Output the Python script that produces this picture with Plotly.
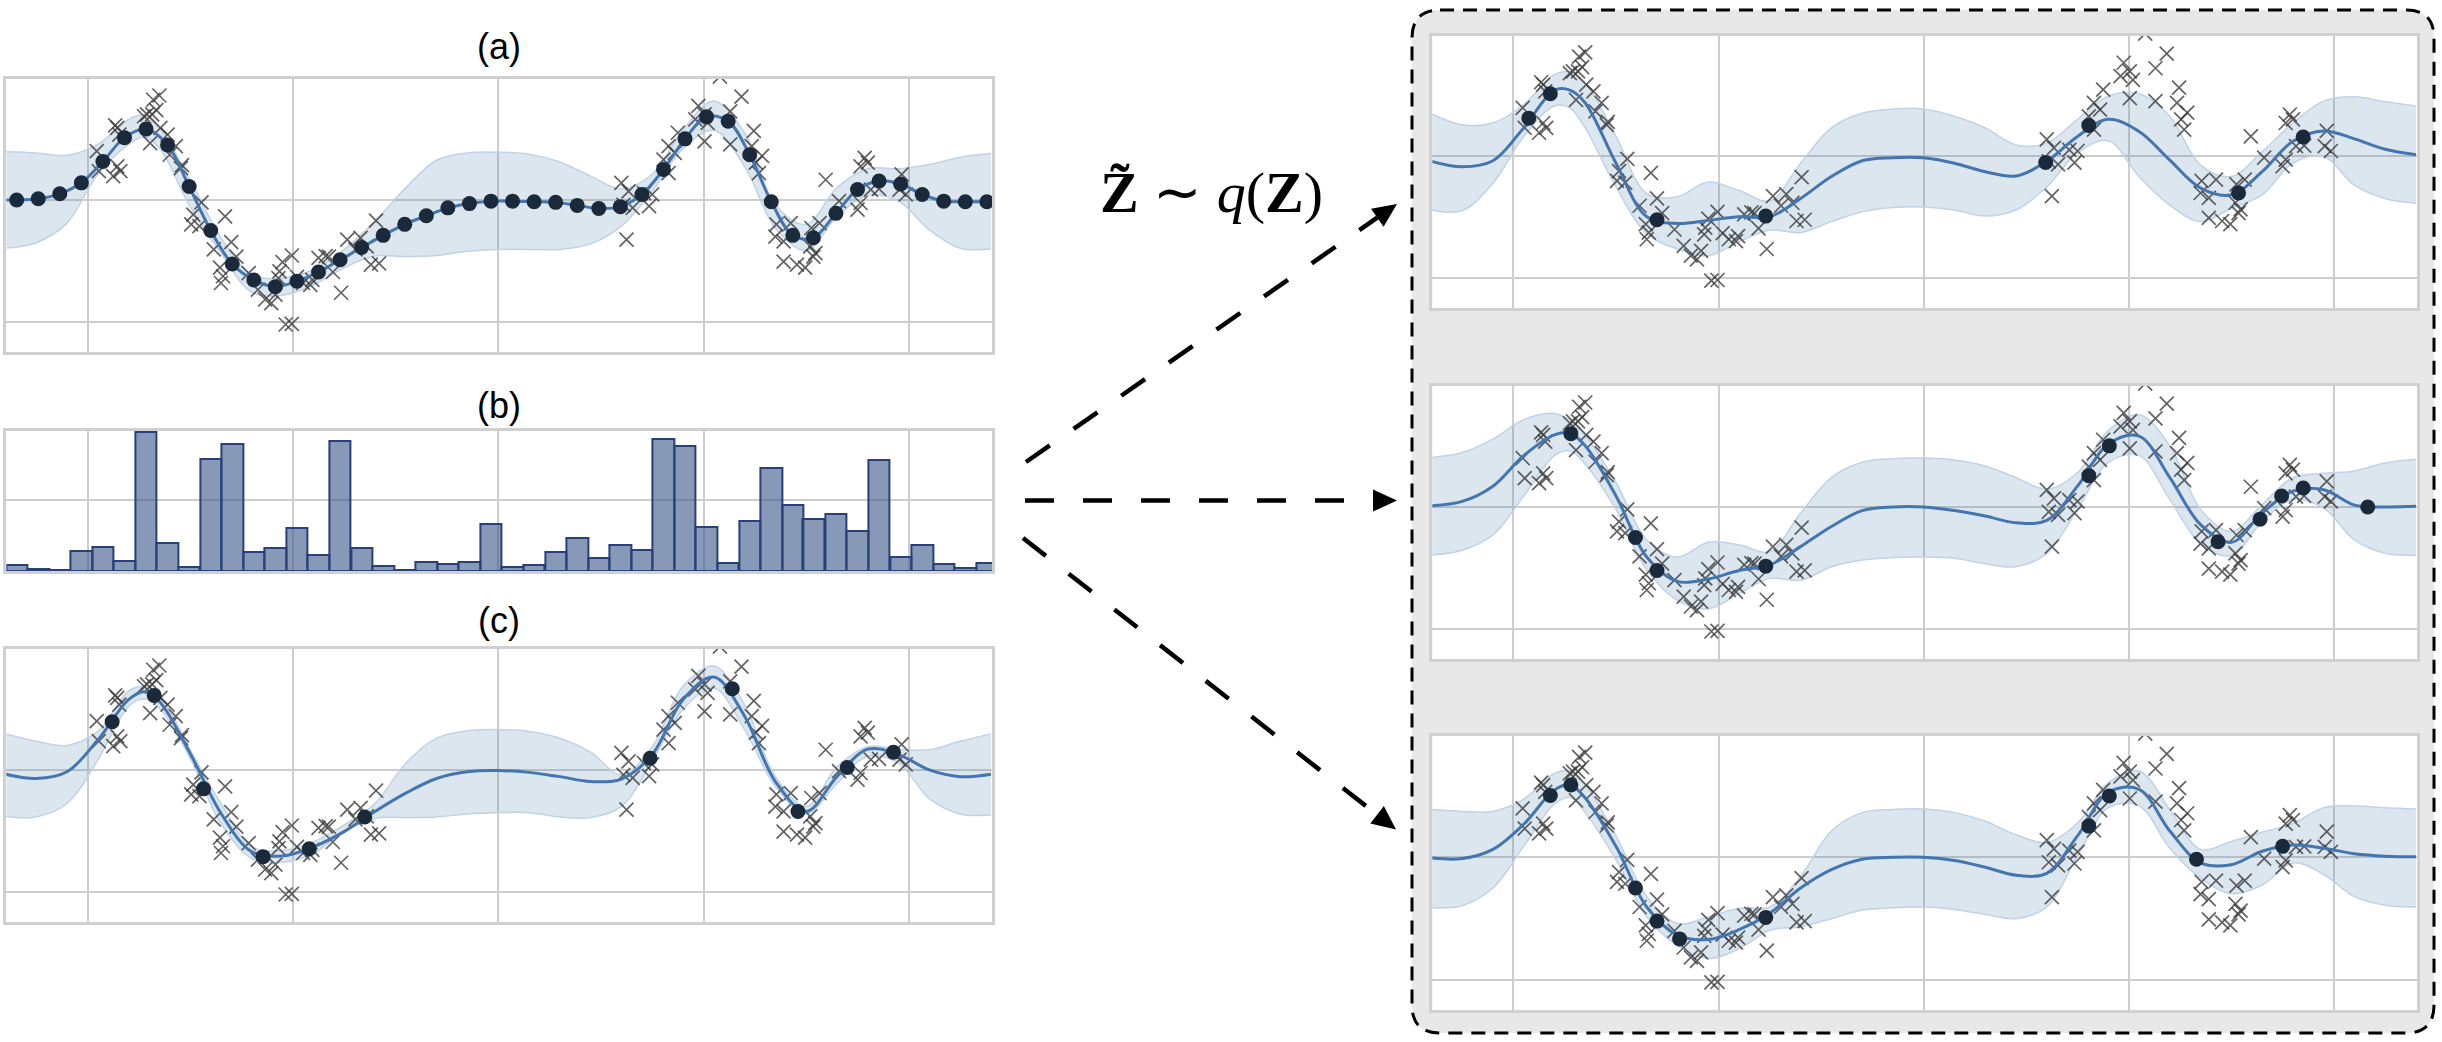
import math
import plotly.graph_objects as go

# ---------- shared data ----------
obs_x = [-3.91,-3.89,-3.73,-3.71,-3.69,-3.71,-3.75,-3.68,-3.42,-3.45,-3.36,-3.30,-3.33,-3.37,-3.39,-3.29,-3.22,-3.14,-3.20,-3.09,-3.08,
         -2.89,-2.97,-2.99,-2.66,-2.91,-2.60,-2.77,-2.55,-2.71,-2.68,-2.70,-2.43,-2.34,-2.27,-2.21,-2.17,-2.13,-2.10,-2.01,-2.14,-1.96,-2.07,-2.01,
         -1.90,-1.83,-1.81,-1.75,-1.68,-1.65,-1.61,-1.53,-1.47,-1.34,-1.28,-1.39,-1.19,-1.24,-1.16,
         1.20,1.27,1.22,1.31,1.47,1.50,1.42,1.25,1.61,1.66,1.66,1.75,1.72,1.95,2.01,2.04,1.92,2.01,2.16,2.26,2.26,2.37,2.49,2.47,2.57,2.51,2.54,
         2.71,2.70,2.85,2.78,2.78,2.91,2.99,3.05,3.13,3.09,3.07,3.04,3.19,3.32,3.50,3.53,3.57,3.60,3.53,3.63,3.71,3.93,3.91,3.97]
obs_y = [0.80,0.47,1.22,1.18,1.07,0.55,0.39,0.47,1.40,1.37,1.64,1.71,1.47,1.40,0.93,1.18,1.07,0.88,0.74,0.52,0.57,
         -0.04,-0.24,-0.40,-0.27,-0.43,-0.69,-0.81,-0.93,-1.11,-1.25,-1.36,-1.20,-1.47,-1.63,-1.69,-1.55,-1.17,-1.02,-0.91,-1.28,-1.26,-2.04,-2.03,
         -1.36,-1.39,-1.31,-0.95,-0.92,-0.93,-1.18,-1.52,-0.65,-0.62,-0.76,-0.81,-0.34,-1.06,-1.04,
         0.28,0.14,-0.08,-0.13,-0.10,0.09,0.11,-0.65,0.66,0.88,0.44,1.10,0.77,1.54,1.40,1.26,1.32,0.96,2.02,1.45,0.91,1.69,1.13,0.88,0.72,0.61,0.44,
         -0.40,-0.60,-0.38,-0.68,-1.01,-1.06,-1.11,-0.46,-0.38,-0.87,-0.93,-0.76,0.33,-0.02,-0.16,-0.05,0.69,0.61,0.55,0.17,0.18,0.42,0.17,0.09]

knots = [-4.8,-4.5,-4.2,-3.9,-3.6,-3.45,-3.3,-3.0,-2.7,-2.4,-2.1,-1.8,-1.5,-1.2,-0.9,-0.6,-0.3,0.0,0.3,0.6,0.9,1.2,1.5,1.8,2.1,2.4,2.7,3.0,3.3,3.6,3.9,4.2,4.5,4.8]

# ---------- panel (a) ----------
a_x = [-4.69,-4.48,-4.27,-4.06,-3.85,-3.64,-3.43,-3.22,-3.01,-2.80,-2.59,-2.38,-2.17,-1.96,-1.75,-1.54,-1.33,-1.12,-0.91,-0.70,-0.49,-0.28,-0.07,
       0.14,0.35,0.56,0.77,0.98,1.19,1.40,1.61,1.82,2.03,2.24,2.45,2.66,2.87,3.07,3.29,3.50,3.71,3.92,4.13,4.34,4.55,4.76]
a_y = [0.00,0.02,0.10,0.28,0.63,1.02,1.16,0.90,0.22,-0.50,-1.05,-1.31,-1.42,-1.33,-1.18,-0.98,-0.78,-0.58,-0.40,-0.26,-0.13,-0.06,-0.02,
       -0.02,-0.03,-0.04,-0.09,-0.14,-0.11,0.09,0.50,1.00,1.36,1.29,0.74,-0.03,-0.58,-0.62,-0.22,0.17,0.31,0.26,0.09,-0.02,-0.03,-0.03]
a_up = [.79,.77,.73,.91,1.32,1.39,1.18,.33,-.62,-1.22,-1.28,-1.14,-.81,-.35,.20,.65,.77,.78,.75,.62,.39,.18,.42,1.15,1.62,1.10,-.08,-.40,.20,.51,.51,.58,.70,.76]
a_lo = [-.79,-.70,-.38,.42,.91,1.03,.85,-.11,-.87,-1.51,-1.56,-1.39,-1.11,-.92,-.93,-.91,-.84,-.81,-.81,-.81,-.72,-.43,.14,.84,1.14,.55,-.46,-.83,-.27,.07,-.02,-.49,-.79,-.80]

# ---------- panel (b) ----------
b_bin_x = [-4.69,-4.48,-4.27,-4.06,-3.85,-3.64,-3.43,-3.22,-3.01,-2.80,-2.59,-2.38,-2.17,-1.96,-1.75,-1.54,-1.33,-1.12,-0.91,-0.70,-0.49,-0.28,-0.07,
           0.14,0.35,0.56,0.77,0.98,1.19,1.40,1.61,1.82,2.03,2.24,2.45,2.66,2.87,3.07,3.29,3.50,3.71,3.92,4.13,4.34,4.55,4.76]
b_vals = [.045,.017,.009,.142,.170,.071,.983,.198,.026,.795,.896,.137,.165,.302,.113,.922,.165,.038,.009,.066,.047,.066,.330,.026,.045,.132,.231,.090,.182,.149,.932,.887,.311,.054,.356,.729,.467,.368,.406,.285,.788,.097,.182,.050,.021,.057]

# ---------- panel (c) ----------
c_mean = [-.07,-.14,-.03,.49,1.15,1.28,1.12,.27,-.71,-1.34,-1.41,-1.26,-1.01,-.68,-.38,-.14,-.03,-.01,-.04,-.11,-.19,-.15,.25,1.15,1.52,.88,-.19,-.68,-.11,.34,.25,0,-.11,-.07]
c_up = [.59,.47,.40,.63,1.29,1.37,1.23,.33,-.55,-1.26,-1.32,-1.18,-.90,-.55,.11,.52,.64,.66,.63,.52,.29,-.08,.38,1.37,1.70,1.07,-.11,-.60,.05,.38,.34,.33,.47,.59]
c_lo = [-.76,-.77,-.55,.16,1.04,1.16,1.01,.19,-.88,-1.45,-1.51,-1.37,-1.01,-.79,-.78,-.77,-.72,-.70,-.70,-.77,-.78,-.60,.14,.99,1.34,.66,-.27,-.72,-.22,.22,.11,-.47,-.72,-.74]
c_x = [-3.76,-3.35,-2.87,-2.29,-1.84,-1.30,1.48,2.28,2.92,3.40,3.85]
c_y = [.79,1.22,-.31,-1.42,-1.29,-.77,.19,1.33,-.68,.04,.29]

# ---------- sampled panels ----------
r1_mean = [-.08,-.17,-.07,.47,1.09,1.09,.88,-.11,-.99,-1.10,-1.05,-.99,-.99,-.69,-.33,-.07,-.02,-.02,-.11,-.25,-.32,-.08,.33,.61,.41,-.06,-.52,-.63,-.25,.25,.42,.29,.12,.03]
r1_up = [.70,.52,.55,.85,1.35,1.39,1.21,.33,-.61,-.66,-.42,-.56,-.73,-.11,.47,.71,.78,.78,.66,.47,.19,.22,.61,.99,1.03,.66,-.14,-.33,.08,.55,.91,.98,.90,.83]
r1_lo = [-.88,-.89,-.44,.33,.83,.80,.47,-.50,-1.27,-1.52,-1.63,-1.40,-1.21,-1.25,-1.07,-.91,-.84,-.83,-.88,-.98,-.88,-.50,.06,.26,-.33,-.80,-1.07,-.85,-.63,-.11,0,-.47,-.69,-.77]
r1_x = [-3.85,-3.64,-2.60,-1.54,1.19,1.61,3.07,3.70]
r1_y = [.63,1.03,-1.04,-.98,-.10,.51,-.60,.32]

r2_mean = [.02,.09,.34,.84,1.18,1.21,1.00,.18,-.82,-1.22,-1.18,-1.04,-.95,-.65,-.32,-.06,0,0,-.06,-.15,-.26,-.22,.34,1.03,1.16,.48,-.29,-.58,-.10,.26,.28,.03,0,.01]
r2_up = [.81,.89,1.11,1.43,1.53,1.42,1.17,.40,-.54,-.82,-.58,-.62,-.73,-.10,.48,.73,.79,.80,.77,.67,.48,.29,.56,1.25,1.51,1.00,-.04,-.40,.04,.48,.55,.59,.72,.78]
r2_lo = [-.79,-.71,-.46,.18,.84,.92,.70,-.04,-1.03,-1.53,-1.67,-1.42,-1.17,-1.20,-.98,-.87,-.83,-.82,-.84,-.93,-.98,-.76,-.04,.73,.84,.12,-.60,-.80,-.24,.12,-.02,-.54,-.76,-.79]
r2_x = [-3.44,-2.81,-2.60,-1.54,1.61,1.81,2.87,3.28,3.49,3.70,4.33]
r2_y = [1.20,-.50,-1.04,-.97,.51,1.00,-.57,-.20,.18,.31,0]

r3_mean = [-.01,-.02,.13,.54,1.10,1.18,.97,.18,-.81,-1.27,-1.34,-1.18,-.91,-.50,-.20,-.03,0,0,-.05,-.16,-.29,-.26,.35,1.06,1.11,.43,-.09,-.12,.10,.20,.15,.06,.02,.01]
r3_up = [.78,.75,.75,.95,1.37,1.41,1.19,.35,-.64,-1.08,-.97,-.83,-.81,-.31,.43,.73,.78,.79,.73,.59,.37,.24,.56,1.22,1.41,.78,.13,.26,.41,.55,.81,.84,.81,.79]
r3_lo = [-.82,-.79,-.50,.18,.87,.98,.73,-.04,-.97,-1.44,-1.65,-1.49,-1.19,-1.13,-1.00,-.86,-.82,-.81,-.85,-.93,-1.00,-.81,.02,.81,.84,.15,-.34,-.59,-.45,-.09,-.28,-.64,-.78,-.81]
r3_x = [-3.64,-3.44,-2.81,-2.60,-2.38,-1.54,1.61,1.81,2.66,3.50]
r3_y = [1.01,1.18,-.50,-1.04,-1.33,-.98,.51,1.00,-.03,.18]

x_ticks = [-4,-2,0,2,4]
y_ticks = [-2,0]
labels = ["(a)", "(b)", "(c)"]
formula = "<b>Z̃</b> ∼ <i>q</i>(<b>Z</b>)"

W, H = 2442, 1042
BAND = "rgba(70,120,170,0.19)"
BAND_EDGE = "rgb(192,210,230)"
MEAN = "#4375B0"
DOT = "#1B2A3B"
CROSS = "rgba(55,55,55,0.78)"
GRID = "#CDCDCD"
LEFT_BOX = (6.4, 992)
RIGHT_BOX = (1432.4, 2417)

fig = go.Figure()

def add_axes(n, px_l, px_r, px_t, px_b, yrange, yt):
    s = "" if n == 1 else str(n)
    fig.update_layout({
        "xaxis" + s: dict(domain=[px_l / W, px_r / W], range=[-4.79, 4.81], tickvals=x_ticks, showticklabels=False, ticks="",
                          showgrid=True, gridcolor=GRID, gridwidth=1.5, zeroline=False, showline=True, mirror=True,
                          linecolor="#D0D0D0", linewidth=3, anchor="y" + s),
        "yaxis" + s: dict(domain=[1 - px_b / H, 1 - px_t / H], range=yrange, tickvals=yt, showticklabels=False, ticks="",
                          showgrid=True, gridcolor=GRID, gridwidth=2, zeroline=False, showline=True, mirror=True,
                          linecolor="#D0D0D0", linewidth=3, anchor="x" + s),
    })

def add_panel(n, mx, my, up, lo, dx, dy, box):
    s = "" if n == 1 else str(n)
    add_axes(n, *box, [-2.49, 1.98], y_ticks)
    ax = dict(xaxis="x" + s, yaxis="y" + s, showlegend=False, hoverinfo="skip")
    fig.add_trace(go.Scatter(x=knots, y=up, mode="lines", line=dict(color=BAND_EDGE, width=1.5, shape="spline"), **ax))
    fig.add_trace(go.Scatter(x=knots, y=lo, mode="lines", line=dict(color=BAND_EDGE, width=1.5, shape="spline"),
                             fill="tonexty", fillcolor=BAND, **ax))
    fig.add_trace(go.Scatter(x=obs_x, y=obs_y, mode="markers",
                             marker=dict(symbol="x-thin", size=14, line=dict(color=CROSS, width=1.7)), **ax))
    fig.add_trace(go.Scatter(x=mx, y=my, mode="lines", line=dict(color=MEAN, width=3, shape="spline"), **ax))
    fig.add_trace(go.Scatter(x=dx, y=dy, mode="markers", marker=dict(color=DOT, size=15, line=dict(width=0)), **ax))

add_panel(1, [-4.79] + a_x + [4.81], [0.0] + a_y + [-0.03], a_up, a_lo, a_x, a_y, (*LEFT_BOX, 79, 352))

add_axes(2, *LEFT_BOX, 431, 571, [0, 0.99], [0.5])
fig.add_trace(go.Bar(x=b_bin_x, y=b_vals, width=0.2087, xaxis="x2", yaxis="y2", showlegend=False, hoverinfo="skip",
                     marker=dict(color="rgba(55,85,135,0.6)", line=dict(color="#274079", width=2))))

add_panel(3, knots, c_mean, c_up, c_lo, c_x, c_y, (*LEFT_BOX, 649, 922))
add_panel(4, knots, r1_mean, r1_up, r1_lo, r1_x, r1_y, (*RIGHT_BOX, 36, 308))
add_panel(5, knots, r2_mean, r2_up, r2_lo, r2_x, r2_y, (*RIGHT_BOX, 386, 659))
add_panel(6, knots, r3_mean, r3_up, r3_lo, r3_x, r3_y, (*RIGHT_BOX, 736, 1010))

# decoration in page pixels
def X(p): return p / W
def Y(p): return 1 - p / H

shapes = []
l, r, t, b, rad = 1412, 2434, 10, 1033, 28
box_path = (f"M {X(l+rad)} {Y(t)} L {X(r-rad)} {Y(t)} Q {X(r)} {Y(t)} {X(r)} {Y(t+rad)} "
            f"L {X(r)} {Y(b-rad)} Q {X(r)} {Y(b)} {X(r-rad)} {Y(b)} L {X(l+rad)} {Y(b)} "
            f"Q {X(l)} {Y(b)} {X(l)} {Y(b-rad)} L {X(l)} {Y(t+rad)} Q {X(l)} {Y(t)} {X(l+rad)} {Y(t)} Z")
shapes.append(dict(type="path", xref="paper", yref="paper", path=box_path, fillcolor="#E8E8E8",
                   line=dict(color="black", width=3, dash="14px,9px"), layer="below"))
for (pt, pb) in [(36, 308), (386, 659), (736, 1010)]:
    shapes.append(dict(type="rect", xref="paper", yref="paper", x0=X(RIGHT_BOX[0]), x1=X(RIGHT_BOX[1]), y0=Y(pb), y1=Y(pt),
                       fillcolor="white", line=dict(width=0), layer="below"))

for (x0, y0, x1, y1) in [(1026, 462, 1397, 204), (1025, 500.6, 1397, 500.6), (1023, 538, 1396, 829.5)]:
    L = math.hypot(x1 - x0, y1 - y0)
    ux, uy = (x1 - x0) / L, (y1 - y0) / L
    bx, by = x1 - 24 * ux, y1 - 24 * uy
    shapes.append(dict(type="line", xref="paper", yref="paper", x0=X(x0), y0=Y(y0), x1=X(bx), y1=Y(by),
                       line=dict(color="black", width=4.5, dash="29px,29px")))
    p1 = (bx - 11 * uy, by + 11 * ux)
    p2 = (bx + 11 * uy, by - 11 * ux)
    shapes.append(dict(type="path", xref="paper", yref="paper", fillcolor="black", line=dict(width=0),
                       path=f"M {X(x1)} {Y(y1)} L {X(p1[0])} {Y(p1[1])} L {X(p2[0])} {Y(p2[1])} Z"))

annotations = []
for text, cy in zip(labels, [46.5, 405, 620]):
    annotations.append(dict(text=text, xref="paper", yref="paper", x=X(499), y=Y(cy), showarrow=False,
                            xanchor="center", yanchor="middle", font=dict(family="Liberation Sans", size=36, color="black")))
annotations.append(dict(text=formula, xref="paper", yref="paper", x=X(1211), y=Y(192), showarrow=False,
                        xanchor="center", yanchor="middle", font=dict(family="Liberation Serif", size=58, color="black")))

fig.update_layout(width=W, height=H, margin=dict(l=0, r=0, t=0, b=0), autosize=False, paper_bgcolor="white", plot_bgcolor="white",
                  shapes=shapes, annotations=annotations, bargap=0, showlegend=False)

fig.write_html("out.html", config=dict(displayModeBar=False),
               post_script="document.body.style.margin='0';document.body.style.overflow='hidden';")
